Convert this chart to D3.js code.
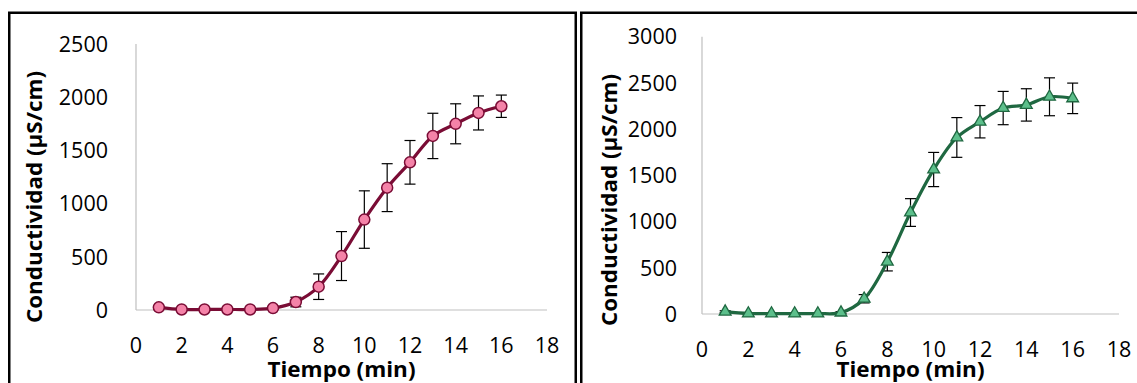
<!DOCTYPE html>
<html>
<head>
<meta charset="utf-8">
<script src="https://cdn.jsdelivr.net/npm/d3@7"></script>
<style>
  body { margin: 0; background: #fff; }
  svg text { font-family: 'Open Sans', Lato, sans-serif; fill: #000; }
</style>
</head>
<body>
<div id="chart"></div>
<script>
// tiempo (min)
const tiempo = [1, 2, 3, 4, 5, 6, 7, 8, 9, 10, 11, 12, 13, 14, 15, 16];
const xTicks = [0, 2, 4, 6, 8, 10, 12, 14, 16, 18];

// panel izquierdo
const condA = [25, 5, 5, 5, 5, 18, 75, 219, 507, 850, 1150, 1388, 1636, 1750, 1852, 1915];
const errA = [8, 5, 5, 5, 5, 8, 45, 120, 230, 270, 225, 205, 213, 188, 160, 105];
const yTicksA = [0, 500, 1000, 1500, 2000, 2500];

// panel derecho
const condB = [25, 5, 5, 5, 5, 15, 165, 566, 1098, 1563, 1910, 2080, 2228, 2262, 2350, 2333];
const errB = [10, 5, 5, 5, 5, 10, 45, 100, 150, 185, 215, 175, 180, 175, 205, 165];
const yTicksB = [0, 500, 1000, 1500, 2000, 2500, 3000];

const W = 1137, H = 383;
const svg = d3.select('#chart').append('svg')
    .attr('width', W)
    .attr('height', H);

// marcos de los paneles
svg.append('rect').attr('x', 9.25).attr('y', 12.75).attr('width', 566.5).attr('height', 400)
    .attr('fill', 'none').attr('stroke', '#000').attr('stroke-width', 2.5);
svg.append('rect').attr('x', 581.25).attr('y', 12.75).attr('width', 600).attr('height', 400)
    .attr('fill', 'none').attr('stroke', '#000').attr('stroke-width', 2.5);

function drawPanel(opt) {
    const g = svg.append('g');
    const x = d3.scaleLinear().domain([0, 18]).range([opt.x0, opt.x1]);
    const y = d3.scaleLinear().domain([0, opt.yMax]).range([opt.yBot, opt.yTop]);

    // ejes (sin marcas)
    g.append('line')
        .attr('x1', x(0)).attr('x2', x(0)).attr('y1', y(opt.yMax)).attr('y2', y(0))
        .attr('stroke', '#bfbfbf').attr('stroke-width', 1.2);
    g.append('line')
        .attr('x1', x(0)).attr('x2', x(18)).attr('y1', y(0)).attr('y2', y(0))
        .attr('stroke', '#bfbfbf').attr('stroke-width', 1.2);

    g.selectAll('.yt')
        .data(opt.yTicks)
        .join('text')
        .attr('x', opt.yLabelX)
        .attr('y', d => y(d))
        .attr('dy', '0.36em')
        .attr('text-anchor', 'end')
        .attr('font-size', '21.5px')
        .text(d => d);

    g.selectAll('.xt')
        .data(xTicks)
        .join('text')
        .attr('x', d => x(d))
        .attr('y', opt.xLabelY)
        .attr('text-anchor', 'middle')
        .attr('font-size', '21.5px')
        .text(d => d);

    g.append('text')
        .attr('x', (x(0) + x(18)) / 2)
        .attr('y', 377)
        .attr('text-anchor', 'middle')
        .attr('font-size', '21px')
        .attr('font-weight', 'bold')
        .attr('textLength', 148)
        .attr('lengthAdjust', 'spacingAndGlyphs')
        .text('Tiempo (min)');

    g.append('text')
        .attr('transform', `translate(${opt.yTitleX}, ${opt.yTitleY}) rotate(-90)`)
        .attr('text-anchor', 'middle')
        .attr('font-size', '21px')
        .attr('font-weight', 'bold')
        .attr('textLength', 252)
        .attr('lengthAdjust', 'spacingAndGlyphs')
        .text('Conductividad (µS/cm)');

    const data = tiempo.map((t, i) => ({ t: t, v: opt.values[i], e: opt.errors[i] }));

    // barras de error
    const eb = g.append('g').attr('stroke', '#000').attr('stroke-width', 1.2);
    data.forEach(d => {
        const cx = x(d.t);
        eb.append('line').attr('x1', cx).attr('x2', cx)
            .attr('y1', y(d.v + d.e)).attr('y2', y(d.v - d.e));
        eb.append('line').attr('x1', cx - 5.5).attr('x2', cx + 5.5)
            .attr('y1', y(d.v + d.e)).attr('y2', y(d.v + d.e));
        eb.append('line').attr('x1', cx - 5.5).attr('x2', cx + 5.5)
            .attr('y1', y(d.v - d.e)).attr('y2', y(d.v - d.e));
    });

    g.append('path')
        .datum(data)
        .attr('fill', 'none')
        .attr('stroke', opt.lineColor)
        .attr('stroke-width', 3.2)
        .attr('d', d3.line()
            .x(d => x(d.t))
            .y(d => y(d.v))
            .curve(d3.curveCatmullRom.alpha(0.5)));

    if (opt.marker === 'circle') {
        g.selectAll('.pt')
            .data(data)
            .join('circle')
            .attr('cx', d => x(d.t))
            .attr('cy', d => y(d.v))
            .attr('r', 5.5)
            .attr('fill', opt.fill)
            .attr('stroke', opt.lineColor)
            .attr('stroke-width', 1.5);
    } else {
        g.selectAll('.pt')
            .data(data)
            .join('path')
            .attr('transform', d => `translate(${x(d.t)}, ${y(d.v)})`)
            .attr('d', d3.symbol(d3.symbolTriangle, 60))
            .attr('fill', opt.fill)
            .attr('stroke', opt.lineColor)
            .attr('stroke-width', 1.3);
    }
}

drawPanel({
    x0: 136, x1: 547, yTop: 44, yBot: 310, yMax: 2500,
    yTicks: yTicksA, yLabelX: 108, xLabelY: 353,
    yTitleX: 42, yTitleY: 197,
    values: condA, errors: errA,
    lineColor: '#7a0c35', fill: '#f483a8', marker: 'circle'
});

drawPanel({
    x0: 702, x1: 1119, yTop: 36.7, yBot: 314, yMax: 3000,
    yTicks: yTicksB, yLabelX: 677, xLabelY: 357,
    yTitleX: 617, yTitleY: 200,
    values: condB, errors: errB,
    lineColor: '#1f6841', fill: '#5cbf8b', marker: 'triangle'
});
</script>
</body>
</html>
